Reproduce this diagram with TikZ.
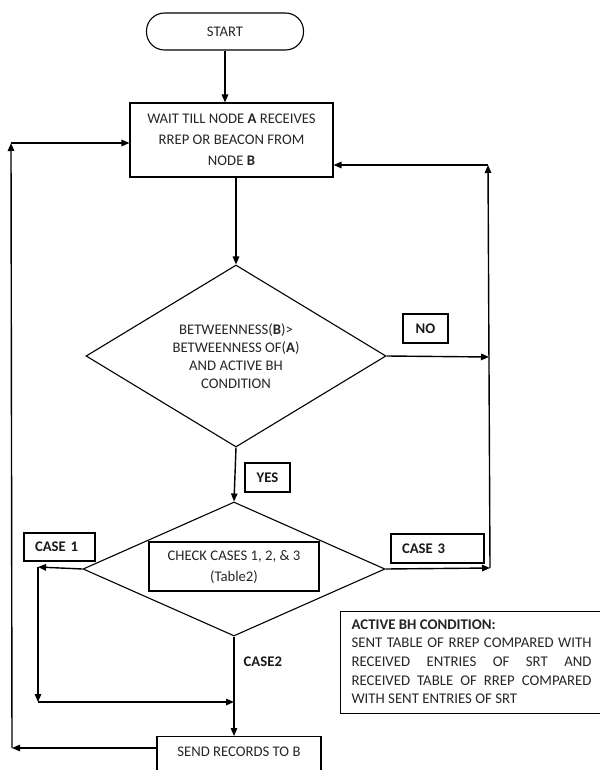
\documentclass[tikz,border=0pt]{standalone}
\usepackage{fontspec}
\setmainfont{Carlito}
\usetikzlibrary{shapes.geometric,arrows.meta}
\begin{document}
\begin{tikzpicture}[x=1pt,y=-1pt,
  line width=1.4pt,
  arr/.style={-{Triangle[length=8pt,width=6.5pt]}},
  box/.style={draw, line width=1.1pt, inner sep=0pt, align=center, text=black!85},
  txt/.style={font=\fontsize{14.7}{21}\selectfont},
  lab/.style={draw, line width=1.1pt, inner sep=0pt, text=black!90, font=\fontsize{14.7}{18}\selectfont\bfseries},
  dia/.style={diamond, draw, line width=1.1pt, inner sep=0pt, align=center, text=black!85}
]
\useasboundingbox (0,0) rectangle (599,770);

\node[box, rounded corners=18pt, minimum width=157pt, minimum height=37pt, txt] (start) at (225,31.5) {START};
\node[box, minimum width=203pt, minimum height=74pt, txt] (wait) at (231.5,140) {WAIT TILL NODE \textbf{A} RECEIVES\\RREP OR BEACON FROM\\NODE \textbf{B}};

\node[dia, aspect=1.65, minimum width=300pt, minimum height=182pt, font=\fontsize{14.7}{18}\selectfont] (d1) at (236,356) {BETWEENNESS(\textbf{B})>\\BETWEENNESS OF(\textbf{A})\\AND ACTIVE BH\\CONDITION};

\node[lab, minimum width=45pt, minimum height=29pt] (no) at (425.5,328.5) {NO};
\node[lab, minimum width=45pt, minimum height=29pt] (yes) at (267.5,477.5) {YES};

\node[dia, aspect=2.25, minimum width=302pt, minimum height=134pt] (d2) at (234,569) {};
\node[box, minimum width=170pt, minimum height=49pt, txt] (check) at (234,566.5) {CHECK CASES 1, 2, \& 3\\(Table2)};

\node[lab, text width=49pt, inner xsep=11pt, minimum height=28pt, align=left] (case1) at (59.5,547) {CASE 1};
\node[lab, text width=71pt, inner xsep=11pt, minimum height=29pt, align=left] (case3) at (437.5,548.5) {CASE 3};
\node[anchor=west, inner sep=0pt, text=black!90, font=\fontsize{14.7}{18}\selectfont\bfseries] (case2) at (243,662) {CASE2};

\node[box, minimum width=164pt, minimum height=50pt, anchor=north] (send) at (239,736) {};
\node[txt, inner sep=0pt, text=black!85] (sendt) at (239,752) {SEND RECORDS TO B};

\node[draw, line width=1.1pt, anchor=north west, text width=240pt, inner xsep=11pt, inner ysep=8pt, align=justify, text=black!85, font=\fontsize{14.8}{18.6}\selectfont] (abh) at (340,611) {\textbf{ACTIVE BH CONDITION:}\\SENT TABLE OF RREP COMPARED WITH\linebreak RECEIVED ENTRIES OF SRT AND\linebreak RECEIVED TABLE OF RREP COMPARED\linebreak WITH SENT ENTRIES OF SRT\vspace{2pt}};

\coordinate (rt) at (488,165);
\coordinate (rm) at (489,357);
\coordinate (rb) at (490,568);
\coordinate (l1) at (38,567);
\coordinate (l2) at (38,702);
\coordinate (ob) at (12,748);
\coordinate (ot) at (11,143);

\draw[arr] (start.south) -- (start.south |- wait.north);
\draw[arr] (d1.north |- wait.south) -- (d1.north);
\draw[arr] (d1.east) -- (rm);
\draw[arr] (d2.east) -- (rb);
\draw[arr] (rb) -- (rt);
\draw[arr] (rt) -- (rt -| wait.east);
\draw[arr] (d1.south) -- (d2.north);
\draw[arr] (d2.west) -- (l1);
\draw[arr] (l1) -- (l2);
\draw[arr] (l2) -- (l2 -| d2.south);
\draw[arr] (d2.south) -- (d2.south |- send.north);
\draw[arr] (ob -| send.west) -- (ob);
\draw[arr] (ob) -- (ot);
\draw[arr] (ot) -- (ot -| wait.west);
\end{tikzpicture}
\end{document}
